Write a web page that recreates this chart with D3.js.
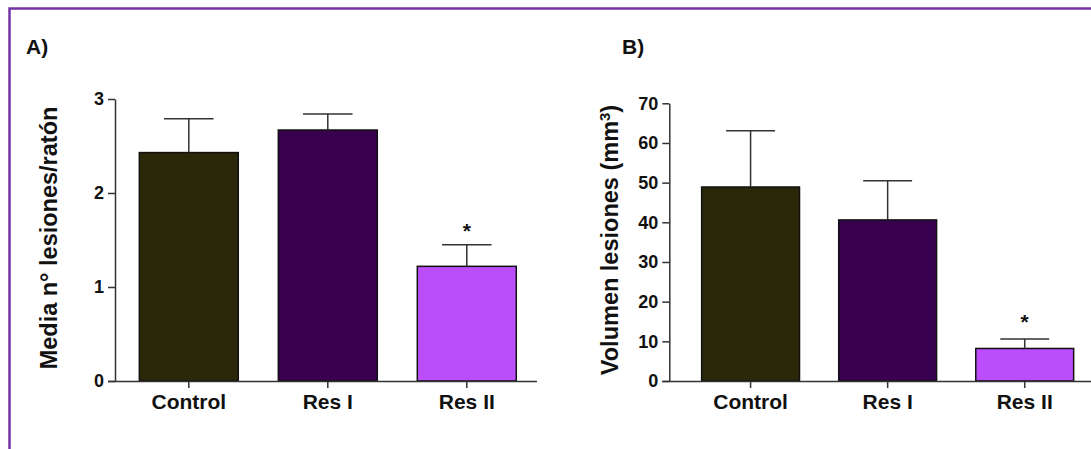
<!DOCTYPE html>
<html>
<head>
<meta charset="utf-8">
<script src="https://cdn.jsdelivr.net/npm/d3@7"></script>
<style>
  body { margin: 0; background: #fff; }
  text { font-family: "Liberation Sans", Arial, sans-serif; font-weight: bold; fill: #111; }
</style>
</head>
<body>
<div id="chart"></div>
<script>
// data
const groups = ["Control", "Res I", "Res II"];
const barColors = ["#2a2809", "#390050", "#bb4dfc"];

const lesionMeans = [2.43, 2.67, 1.22];
const lesionErrTop = [2.79, 2.84, 1.45];
const lesionTicks = [0, 1, 2, 3];

const volumeMeans = [48.9, 40.6, 8.2];
const volumeErrTop = [63.1, 50.5, 10.6];
const volumeTicks = [0, 10, 20, 30, 40, 50, 60, 70];

const significant = [false, false, true];

const W = 1091, H = 449;

const svg = d3.select("#chart")
    .append("svg")
    .attr("width", W)
    .attr("height", H);

// purple frame (top and left edges only visible)
svg.append("path")
    .attr("d", `M9.5,449 L9.5,8.5 L${W},8.5`)
    .attr("fill", "none")
    .attr("stroke", "#7434a8")
    .attr("stroke-width", 2.5);

function drawPanel(opts) {
    const g = svg.append("g");

    const y = d3.scaleLinear()
        .domain(opts.domain)
        .range([381, opts.top]);

    const x = d3.scaleBand()
        .domain(groups)
        .range([opts.left, opts.right])
        .paddingInner(opts.pIn)
        .paddingOuter(opts.pOut);

    // bars
    g.selectAll("rect.bar")
        .data(groups)
        .join("rect")
        .attr("class", "bar")
        .attr("x", d => x(d))
        .attr("width", x.bandwidth())
        .attr("y", (d, i) => y(opts.means[i]))
        .attr("height", (d, i) => y(0) - y(opts.means[i]))
        .attr("fill", (d, i) => barColors[i])
        .attr("stroke", "#111")
        .attr("stroke-width", 1.5);

    // upper error bars
    const capHalf = x.bandwidth() / 4;
    g.selectAll("path.err")
        .data(groups)
        .join("path")
        .attr("class", "err")
        .attr("fill", "none")
        .attr("stroke", "#333")
        .attr("stroke-width", 1.5)
        .attr("d", (d, i) => {
            const cx = x(d) + x.bandwidth() / 2;
            const t = y(opts.err[i]), b = y(opts.means[i]);
            return `M${cx},${b}V${t}M${cx - capHalf},${t}H${cx + capHalf}`;
        });

    // significance stars
    g.selectAll("text.star")
        .data(groups.filter((d, i) => significant[i]))
        .join("text")
        .attr("class", "star")
        .attr("text-anchor", "middle")
        .attr("font-size", 21)
        .attr("x", d => x(d) + x.bandwidth() / 2)
        .attr("y", d => y(opts.err[groups.indexOf(d)]) - opts.starGap)
        .text("*");

    // y axis
    const yAx = g.append("g")
        .attr("transform", `translate(${opts.left},0)`)
        .call(d3.axisLeft(y).tickValues(opts.ticks).tickFormat(d3.format("d"))
            .tickSize(7).tickSizeOuter(0).tickPadding(4));
    yAx.selectAll("path, line").attr("stroke", "#333").attr("stroke-width", 1.5);
    yAx.selectAll("text").attr("font-size", 18).style("font-family", null);

    // x axis
    const xAx = g.append("g")
        .attr("transform", `translate(0,${y(0)})`)
        .call(d3.axisBottom(x).tickSize(7).tickSizeOuter(0).tickPadding(6));
    xAx.select(".domain").attr("d", `M${opts.left - 7},0.5H${opts.axisEnd}`);
    xAx.selectAll("path, line").attr("stroke", "#333").attr("stroke-width", 1.5);
    xAx.selectAll("text").attr("font-size", 21).style("font-family", null);

    // y label
    const lab = g.append("text")
        .attr("transform", `translate(${opts.labelX},${opts.labelY}) rotate(-90)`)
        .attr("text-anchor", "middle")
        .attr("font-size", 23.5);
    opts.label(lab);

    // panel letter
    g.append("text")
        .attr("x", opts.letterX)
        .attr("y", 54)
        .attr("font-size", 21)
        .text(opts.letter);
}

drawPanel({
    domain: [0, 3], top: 99, left: 115, right: 540.6,
    pIn: 0.288, pOut: 0.175, axisEnd: 537,
    means: lesionMeans, err: lesionErrTop, ticks: lesionTicks,
    starGap: 7,
    labelX: 57, labelY: 238,
    label: t => t.text("Media n° lesiones/ratón"),
    letter: "A)", letterX: 26
});

drawPanel({
    domain: [0, 70], top: 103.3, left: 669.3, right: 1106,
    pIn: 0.286, pOut: 0.236, axisEnd: W,
    means: volumeMeans, err: volumeErrTop, ticks: volumeTicks,
    starGap: 10,
    labelX: 618, labelY: 240,
    label: t => {
        t.append("tspan").text("Volumen lesiones (mm");
        t.append("tspan").attr("baseline-shift", "super").attr("font-size", 15).text("3");
        t.append("tspan").text(")");
    },
    letter: "B)", letterX: 622
});
</script>
</body>
</html>
